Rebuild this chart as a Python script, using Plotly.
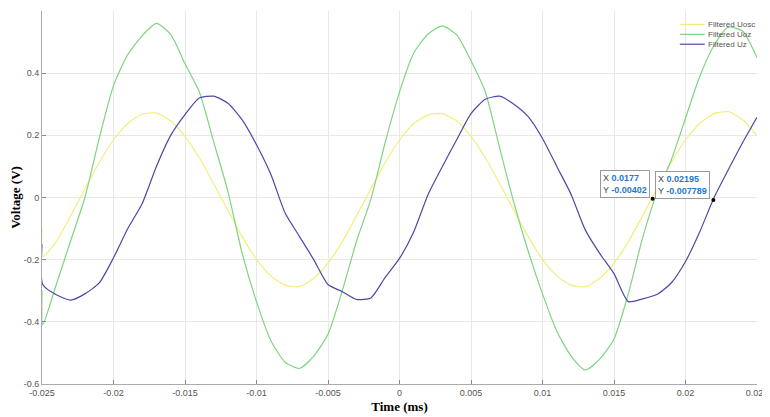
import plotly.graph_objects as go

# Time axis (ms); first sample is the start-up transient
time = [-0.025, -0.02495, -0.024, -0.023, -0.022, -0.021, -0.020, -0.019, -0.018, -0.017, -0.016,
        -0.015, -0.014, -0.013, -0.012, -0.011, -0.010, -0.009, -0.008, -0.007, -0.006,
        -0.005, -0.004, -0.003, -0.002, -0.001, 0.000, 0.001, 0.002, 0.003, 0.004,
        0.005, 0.006, 0.007, 0.008, 0.009, 0.010, 0.011, 0.012, 0.013, 0.014,
        0.015, 0.016, 0.017, 0.018, 0.019, 0.020, 0.021, 0.022, 0.023, 0.024, 0.025]

u_osc = [-0.10, -0.19, -0.142, -0.059, 0.028, 0.112, 0.185, 0.238, 0.268, 0.272, 0.246,
         0.197, 0.128, 0.045, -0.042, -0.126, -0.199, -0.252, -0.282, -0.287, -0.260,
         -0.211, -0.142, -0.059, 0.028, 0.112, 0.185, 0.238, 0.266, 0.270, 0.246,
         0.197, 0.128, 0.045, -0.042, -0.126, -0.199, -0.252, -0.282, -0.287, -0.260,
         -0.211, -0.142, -0.059, 0.028, 0.112, 0.185, 0.238, 0.270, 0.276, 0.250, 0.200]

u_oz = [-0.30, -0.41, -0.28, -0.14, 0.0, 0.19, 0.36, 0.46, 0.52, 0.56, 0.525,
        0.43, 0.34, 0.18, 0.02, -0.18, -0.335, -0.46, -0.53, -0.55, -0.51,
        -0.44, -0.30, -0.14, -0.005, 0.177, 0.34, 0.465, 0.526, 0.552, 0.523,
        0.44, 0.34, 0.16, -0.017, -0.173, -0.31, -0.43, -0.51, -0.555, -0.52,
        -0.455, -0.31, -0.13, 0.015, 0.12, 0.255, 0.39, 0.49, 0.548, 0.535, 0.45]

u_z = [-0.15, -0.28, -0.313, -0.33, -0.31, -0.275, -0.194, -0.10, -0.02, 0.10, 0.20,
       0.267, 0.32, 0.326, 0.303, 0.25, 0.17, 0.075, -0.05, -0.125, -0.20,
       -0.28, -0.303, -0.328, -0.323, -0.257, -0.196, -0.11, 0.01, 0.10, 0.186,
       0.27, 0.316, 0.326, 0.30, 0.26, 0.19, 0.10, 0.01, -0.105, -0.18,
       -0.245, -0.335, -0.326, -0.312, -0.275, -0.206, -0.11, 0.0, 0.09, 0.177, 0.258]

series_names = ["Filtered Uosc", "Filtered Uoz", "Filtered Uz"]
series_colors = ["#f2ee7e", "#7fd47f", "#4b49a6"]

tip_x = [0.0177, 0.02195]
tip_y = [-0.00402, -0.007789]
tip_x_text = ["0.0177", "0.02195"]
tip_y_text = ["-0.00402", "-0.007789"]

x_ticks = [-0.025, -0.02, -0.015, -0.01, -0.005, 0, 0.005, 0.01, 0.015, 0.02, 0.025]
x_tick_text = ["-0.025", "-0.02", "-0.015", "-0.01", "-0.005", "0", "0.005", "0.01", "0.015", "0.02", "0.025"]
y_ticks = [-0.6, -0.4, -0.2, 0, 0.2, 0.4, 0.6]
y_tick_text = ["-0.6", "-0.4", "-0.2", "0", "0.2", "0.4", "0.6"]

fig = go.Figure()
for name, vals, col in zip(series_names, [u_osc, u_oz, u_z], series_colors):
    fig.add_trace(go.Scatter(x=time, y=vals, mode="lines", name=name, showlegend=False,
                             line=dict(color=col, width=1.2, shape="spline", smoothing=0.6)))

fig.add_trace(go.Scatter(x=tip_x, y=tip_y, mode="markers", showlegend=False,
                         marker=dict(color="black", size=4), hoverinfo="skip"))

for tx, ty, xs, ys in zip(tip_x, tip_y, tip_x_text, tip_y_text):
    fig.add_annotation(x=tx, y=ty, xref="x", yref="y", showarrow=False,
                       xanchor="right", yanchor="bottom", xshift=-3, yshift=1,
                       align="left",
                       text=(f"<span style='color:#444'>X </span><b style='color:#1f77d0'>{xs}</b><br>"
                             f"<span style='color:#444'>Y </span><b style='color:#1f77d0'>{ys}</b>"),
                       font=dict(family="Arial, Liberation Sans", size=9),
                       bgcolor="white", bordercolor="#999", borderwidth=1, borderpad=2)

# compact MATLAB-style legend (line sample + label), top-right inside the axes
legend_y = [0.964, 0.9375, 0.911]
for name, col, ly in zip(series_names, series_colors, legend_y):
    fig.add_shape(type="line", xref="paper", yref="paper", x0=0.892, x1=0.927, y0=ly, y1=ly,
                  line=dict(color=col, width=1.2))
    fig.add_annotation(x=0.929, y=ly, xref="paper", yref="paper", showarrow=False,
                       xanchor="left", yanchor="middle", text=name,
                       font=dict(family="Arial, Liberation Sans", size=8, color="#555"))

axis_common = dict(showgrid=True, gridcolor="#e8e8e8", gridwidth=1, zeroline=False,
                   showline=True, linecolor="#aaaaaa", linewidth=1,
                   ticks="inside", ticklen=4, tickcolor="#888",
                   tickfont=dict(family="Arial, Liberation Sans", size=9, color="#555"))

fig.update_xaxes(range=[-0.025, 0.025], tickvals=x_ticks, ticktext=x_tick_text,
                 title=dict(text="<b>Time (ms)</b>", standoff=5,
                            font=dict(family="Liberation Serif, Times New Roman", size=13, color="black")),
                 **axis_common)
fig.update_yaxes(range=[-0.6, 0.6], tickvals=y_ticks, ticktext=y_tick_text,
                 title=dict(text="<b>Voltage (V)</b>", standoff=3,
                            font=dict(family="Liberation Serif, Times New Roman", size=13, color="black")),
                 **axis_common)

# page body has an 8px margin, so the figure is sized to fit the 770x417 window
fig.update_layout(
    width=762, height=409,
    margin=dict(l=34, r=13, t=3, b=33, autoexpand=False),
    paper_bgcolor="white", plot_bgcolor="white",
    showlegend=False,
)

fig.write_html("out.html")
